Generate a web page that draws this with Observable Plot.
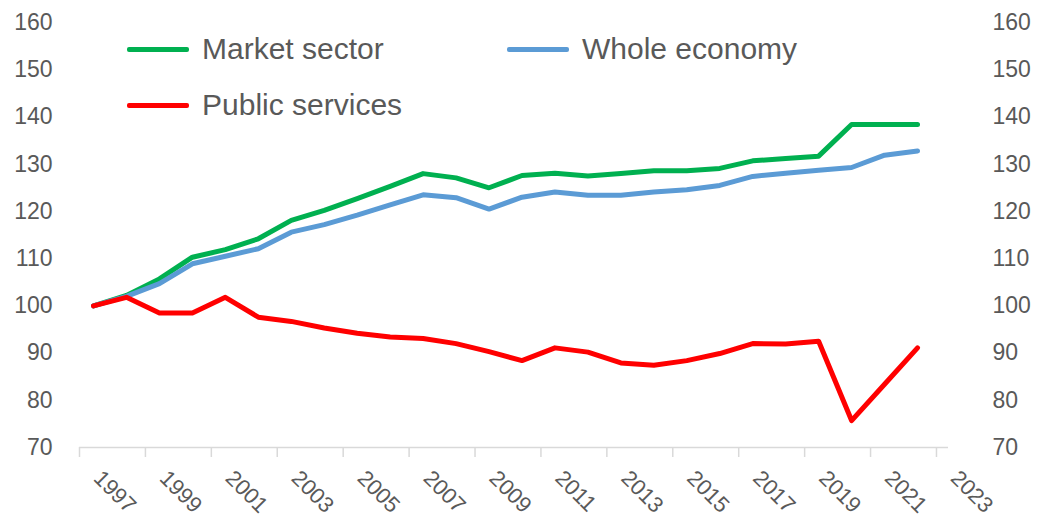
<!DOCTYPE html>
<html>
<head>
<meta charset="utf-8">
<script src="https://cdn.jsdelivr.net/npm/d3@7"></script>
<script src="https://cdn.jsdelivr.net/npm/@observablehq/plot@0.6"></script>
<style>
  html, body { margin: 0; padding: 0; background: #ffffff; }
  #wrap { position: relative; width: 1040px; height: 522px; overflow: hidden; font-family: 'Liberation Sans', Arial, sans-serif; }
  .leg { position: absolute; display: flex; align-items: center; height: 30px; }
  .leg .sw { width: 62px; height: 5px; border-radius: 2px; margin-right: 13px; }
  .leg .tx { font-size: 30px; line-height: 30px; color: #595959; white-space: nowrap; }
</style>
</head>
<body>
<div id="wrap"></div>
<script>
const years = [1997,1998,1999,2000,2001,2002,2003,2004,2005,2006,2007,2008,2009,2010,2011,2012,2013,2014,2015,2016,2017,2018,2019,2020,2021,2022];
const marketSector   = [100,102.2,105.7,110.3,111.9,114.2,118.1,120.2,122.7,125.3,128.0,127.1,125.0,127.6,128.1,127.5,128.0,128.6,128.6,129.1,130.7,131.2,131.7,138.4,138.4,138.4];
const wholeEconomy   = [100,102.0,104.7,108.9,110.5,112.1,115.6,117.2,119.2,121.4,123.5,122.9,120.5,123.0,124.1,123.4,123.4,124.1,124.6,125.5,127.4,128.1,128.7,129.3,131.9,132.8];
const publicServices = [100,101.8,98.5,98.5,101.8,97.6,96.7,95.3,94.2,93.4,93.1,92.0,90.3,88.4,91.1,90.2,87.9,87.4,88.4,89.9,92.0,91.9,92.5,75.7,83.4,91.1];

const seriesNames = ["Market sector", "Whole economy", "Public services"];
const seriesColors = ["#00b050", "#5b9bd5", "#ff0000"];
const yTicks = [70,80,90,100,110,120,130,140,150,160];
const xTickLabels = [1997,1999,2001,2003,2005,2007,2009,2011,2013,2015,2017,2019,2021,2023];

const seriesValues = [marketSector, wholeEconomy, publicServices];
const table = [];
seriesNames.forEach((name, s) => {
  years.forEach((year, i) => table.push({series: name, year, value: seriesValues[s][i]}));
});

const chart = Plot.plot({
  width: 1040,
  height: 522,
  marginLeft: 79,
  marginRight: 92,
  marginTop: 22,
  marginBottom: 75,
  x: {domain: [1996.575, 2022.94]},
  y: {domain: [70, 160]},
  color: {domain: seriesNames, range: seriesColors},
  style: {fontFamily: "'Liberation Sans', Arial, sans-serif", color: "#595959", background: "white", overflow: "visible"},
  marks: [
    Plot.ruleY([70], {stroke: "#d9d9d9", strokeWidth: 1.5}),
    Plot.axisX(xTickLabels.map(d => d - 0.425), {tickSize: 10, stroke: "#d9d9d9", strokeWidth: 1.5, tickFormat: () => "", label: null}),
    Plot.axisX(xTickLabels, {tickSize: 0, tickPadding: 27, rotate: 45, textAnchor: "start", lineAnchor: "middle", dx: 4, fontSize: 22, tickFormat: d => String(d), label: null}),
    Plot.axisY(yTicks, {anchor: "left", tickSize: 0, tickPadding: 27, fontSize: 23, label: null}),
    Plot.axisY(yTicks, {anchor: "right", tickSize: 0, tickPadding: 44, fontSize: 23, label: null}),
    Plot.line(table, {x: "year", y: "value", z: "series", stroke: "series", strokeWidth: 5, strokeLinejoin: "round", strokeLinecap: "round"})
  ]
});

const wrap = document.getElementById("wrap");
wrap.appendChild(chart);

const legendPos = [[127, 34], [507, 34], [127, 90]];
seriesNames.forEach((name, i) => {
  const item = document.createElement("div");
  item.className = "leg";
  item.style.left = legendPos[i][0] + "px";
  item.style.top = legendPos[i][1] + "px";
  const sw = document.createElement("div");
  sw.className = "sw";
  sw.style.background = seriesColors[i];
  const tx = document.createElement("span");
  tx.className = "tx";
  tx.textContent = name;
  item.appendChild(sw);
  item.appendChild(tx);
  wrap.appendChild(item);
});
</script>
</body>
</html>
